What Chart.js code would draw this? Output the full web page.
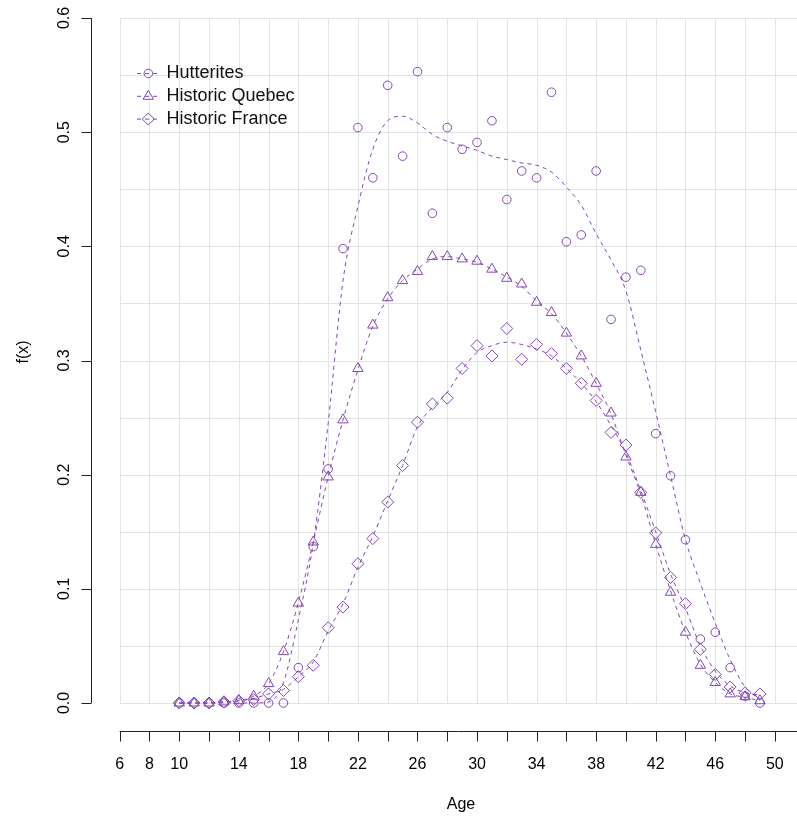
<!DOCTYPE html>
<html>
<head>
<meta charset="utf-8">
<script src="https://cdn.jsdelivr.net/npm/chart.js@4.4.1/dist/chart.umd.min.js"></script>
<style>
  html, body { margin: 0; padding: 0; background: #fff; }
  #wrap { width: 797px; height: 818px; position: relative; }
</style>
</head>
<body>
<div id="wrap"><canvas id="fx"></canvas></div>
<script>
// ages 10..49, one value per age
const ages = [10, 11, 12, 13, 14, 15, 16, 17, 18, 19, 20, 21, 22, 23, 24, 25, 26, 27, 28, 29,
              30, 31, 32, 33, 34, 35, 36, 37, 38, 39, 40, 41, 42, 43, 44, 45, 46, 47, 48, 49];

const hutteritesObs = [0, 0, 0, 0, 0, 0, 0, 0, 0.031, 0.137, 0.205, 0.398, 0.504, 0.460, 0.541, 0.479, 0.553, 0.429, 0.504, 0.485,
                       0.491, 0.510, 0.441, 0.466, 0.460, 0.535, 0.404, 0.410, 0.466, 0.336, 0.373, 0.379, 0.236, 0.199, 0.143, 0.056, 0.062, 0.031, 0.006, 0];
const hutteritesFit = [0, 0, 0, 0, 0, 0, 0.001, 0.018, 0.073, 0.140, 0.245, 0.370, 0.435, 0.485, 0.510, 0.514, 0.508, 0.498, 0.492, 0.488,
                       0.484, 0.479, 0.476, 0.473, 0.471, 0.465, 0.452, 0.436, 0.411, 0.388, 0.361, 0.309, 0.255, 0.199, 0.143, 0.105, 0.070, 0.038, 0.014, 0.003];

const quebecObs = [0, 0, 0, 0.001, 0.002, 0.006, 0.017, 0.045, 0.0875, 0.141, 0.198, 0.248, 0.293, 0.331, 0.355, 0.370, 0.378, 0.391, 0.391, 0.389,
                   0.387, 0.380, 0.372, 0.367, 0.351, 0.342, 0.324, 0.304, 0.280, 0.254, 0.2155, 0.1845, 0.139, 0.097, 0.062, 0.033, 0.018, 0.008, 0.0055, 0.002];
const quebecFit = [0, 0, 0, 0.001, 0.002, 0.006, 0.017, 0.045, 0.088, 0.141, 0.198, 0.248, 0.292, 0.330, 0.354, 0.370, 0.380, 0.389, 0.391, 0.389,
                   0.386, 0.380, 0.373, 0.365, 0.352, 0.341, 0.324, 0.304, 0.280, 0.253, 0.217, 0.183, 0.139, 0.098, 0.062, 0.034, 0.018, 0.008, 0.005, 0.002];

const franceObs = [0, 0, 0, 0.001, 0.002, 0.003, 0.008, 0.011, 0.023, 0.033, 0.066, 0.084, 0.122, 0.144, 0.176, 0.208, 0.246, 0.262, 0.267, 0.293,
                   0.313, 0.304, 0.328, 0.301, 0.314, 0.306, 0.293, 0.280, 0.265, 0.237, 0.226, 0.1845, 0.149, 0.110, 0.087, 0.047, 0.025, 0.014, 0.009, 0.008];
const franceFit = [0, 0, 0, 0.001, 0.002, 0.004, 0.008, 0.012, 0.023, 0.036, 0.063, 0.087, 0.119, 0.146, 0.177, 0.208, 0.242, 0.259, 0.272, 0.292,
                   0.307, 0.313, 0.316, 0.314, 0.310, 0.304, 0.293, 0.280, 0.264, 0.243, 0.219, 0.186, 0.150, 0.113, 0.083, 0.050, 0.028, 0.015, 0.009, 0.007];

const seriesNames = ['Hutterites', 'Historic Quebec', 'Historic France'];

const xTicks = [6, 8, 10, 12, 14, 16, 18, 20, 22, 24, 26, 28, 30, 32, 34, 36, 38, 40, 42, 44, 46, 48, 50];
const xTickLabels = ['6', '8', '10', '', '14', '', '18', '', '22', '', '26', '', '30', '', '34', '', '38', '', '42', '', '46', '', '50'];
const yTicks = [0, 0.1, 0.2, 0.3, 0.4, 0.5, 0.6];
const yTickLabels = ['0.0', '0.1', '0.2', '0.3', '0.4', '0.5', '0.6'];
const yGrid = [0, 0.05, 0.1, 0.15, 0.2, 0.25, 0.3, 0.35, 0.4, 0.45, 0.5, 0.55, 0.6];

const PURPLE = '#8448b0';
const GRID = '#e4e4e4';
const FONT = '"Liberation Sans", Arial, Helvetica, sans-serif';

const markerStyle = [
    { pointStyle: 'circle', radius: 4.3 },
    { pointStyle: 'triangle', radius: 6 },
    { pointStyle: 'rectRot', radius: 6 },
];

function pts(ys) {
    return ages.map((a, i) => ({ x: a, y: ys[i] }));
}

function fitSet(ys) {
    return {
        type: 'line',
        data: pts(ys),
        borderColor: PURPLE,
        borderWidth: 1,
        borderDash: [4, 4],
        pointRadius: 0,
        pointHoverRadius: 0,
        cubicInterpolationMode: 'monotone',
        fill: false,
    };
}

function obsSet(ys, k) {
    return {
        type: 'scatter',
        data: pts(ys),
        showLine: false,
        pointStyle: markerStyle[k].pointStyle,
        pointRadius: markerStyle[k].radius,
        pointHoverRadius: markerStyle[k].radius,
        pointBorderWidth: 1,
        borderColor: PURPLE,
        backgroundColor: 'rgba(0,0,0,0)',
    };
}

// R-like axes, grid and legend drawn off the chart's own scales
const rStyle = {
    id: 'rStyle',
    beforeDatasetsDraw(chart) {
        const { ctx, chartArea } = chart;
        const xs = chart.scales.x, ys = chart.scales.y;
        ctx.save();
        ctx.strokeStyle = GRID;
        ctx.lineWidth = 1;
        const y0 = ys.getPixelForValue(0), y1 = ys.getPixelForValue(0.6);
        const x0 = xs.getPixelForValue(xTicks[0]);
        xTicks.forEach(v => {
            const px = Math.round(xs.getPixelForValue(v)) + 0.5;
            ctx.beginPath(); ctx.moveTo(px, y0); ctx.lineTo(px, y1); ctx.stroke();
        });
        yGrid.forEach(v => {
            const py = Math.round(ys.getPixelForValue(v)) + 0.5;
            ctx.beginPath(); ctx.moveTo(x0, py); ctx.lineTo(chartArea.right, py); ctx.stroke();
        });
        ctx.restore();
    },
    afterDraw(chart) {
        const { ctx, chartArea } = chart;
        const xs = chart.scales.x, ys = chart.scales.y;
        ctx.save();
        ctx.strokeStyle = '#222';
        ctx.fillStyle = '#000';
        ctx.lineWidth = 1;

        // y axis
        const ax = chartArea.left - 0.5;
        ctx.beginPath();
        ctx.moveTo(ax, ys.getPixelForValue(0));
        ctx.lineTo(ax, ys.getPixelForValue(0.6));
        ctx.stroke();
        ctx.font = '16px ' + FONT;
        ctx.textAlign = 'center';
        ctx.textBaseline = 'alphabetic';
        yTicks.forEach((v, i) => {
            const py = Math.round(ys.getPixelForValue(v)) + 0.5;
            ctx.beginPath(); ctx.moveTo(ax - 10, py); ctx.lineTo(ax, py); ctx.stroke();
            ctx.save();
            ctx.translate(ax - 23, ys.getPixelForValue(v));
            ctx.rotate(-Math.PI / 2);
            ctx.fillText(yTickLabels[i], 0, 0);
            ctx.restore();
        });

        // x axis
        const ay = chartArea.bottom - 0.5;
        ctx.beginPath();
        ctx.moveTo(xs.getPixelForValue(xTicks[0]), ay);
        ctx.lineTo(chartArea.right, ay);
        ctx.stroke();
        xTicks.forEach((v, i) => {
            const px = Math.round(xs.getPixelForValue(v)) + 0.5;
            ctx.beginPath(); ctx.moveTo(px, ay); ctx.lineTo(px, ay + 10); ctx.stroke();
            if (xTickLabels[i]) ctx.fillText(xTickLabels[i], xs.getPixelForValue(v), ay + 37);
        });

        // axis titles
        ctx.fillText('Age', 461, 809);
        ctx.save();
        ctx.translate(28, 352);
        ctx.rotate(-Math.PI / 2);
        ctx.fillText('f(x)', 0, 0);
        ctx.restore();

        // legend
        ctx.font = '18px ' + FONT;
        ctx.textAlign = 'left';
        ctx.textBaseline = 'middle';
        seriesNames.forEach((name, i) => {
            const ry = 73.5 + i * 22.8;
            ctx.strokeStyle = PURPLE;
            ctx.setLineDash([4, 4]);
            ctx.beginPath(); ctx.moveTo(137, ry); ctx.lineTo(160, ry); ctx.stroke();
            ctx.setLineDash([]);
            ctx.fillStyle = 'rgba(0,0,0,0)';
            Chart.helpers.drawPoint(ctx, {
                pointStyle: markerStyle[i].pointStyle,
                radius: markerStyle[i].radius,
                borderWidth: 1,
                rotation: 0,
            }, 148.3, ry);
            ctx.fillStyle = '#111';
            ctx.fillText(name, 166.5, ry - 0.5);
        });
        ctx.restore();
    }
};

new Chart(document.getElementById('fx'), {
    data: {
        datasets: [
            fitSet(hutteritesFit),
            fitSet(quebecFit),
            fitSet(franceFit),
            obsSet(hutteritesObs, 0),
            obsSet(quebecObs, 1),
            obsSet(franceObs, 2),
        ]
    },
    options: {
        responsive: true,
        maintainAspectRatio: false,
        animation: false,
        events: [],
        layout: { autoPadding: false, padding: { left: 92, right: 0, top: 18, bottom: 86 } },
        scales: {
            x: { type: 'linear', display: false, min: 4.14, max: 51.49 },
            y: { type: 'linear', display: false, min: -0.0254, max: 0.6 },
        },
        plugins: {
            legend: { display: false },
            tooltip: { enabled: false },
        },
    },
    plugins: [rStyle],
});
</script>
</body>
</html>
